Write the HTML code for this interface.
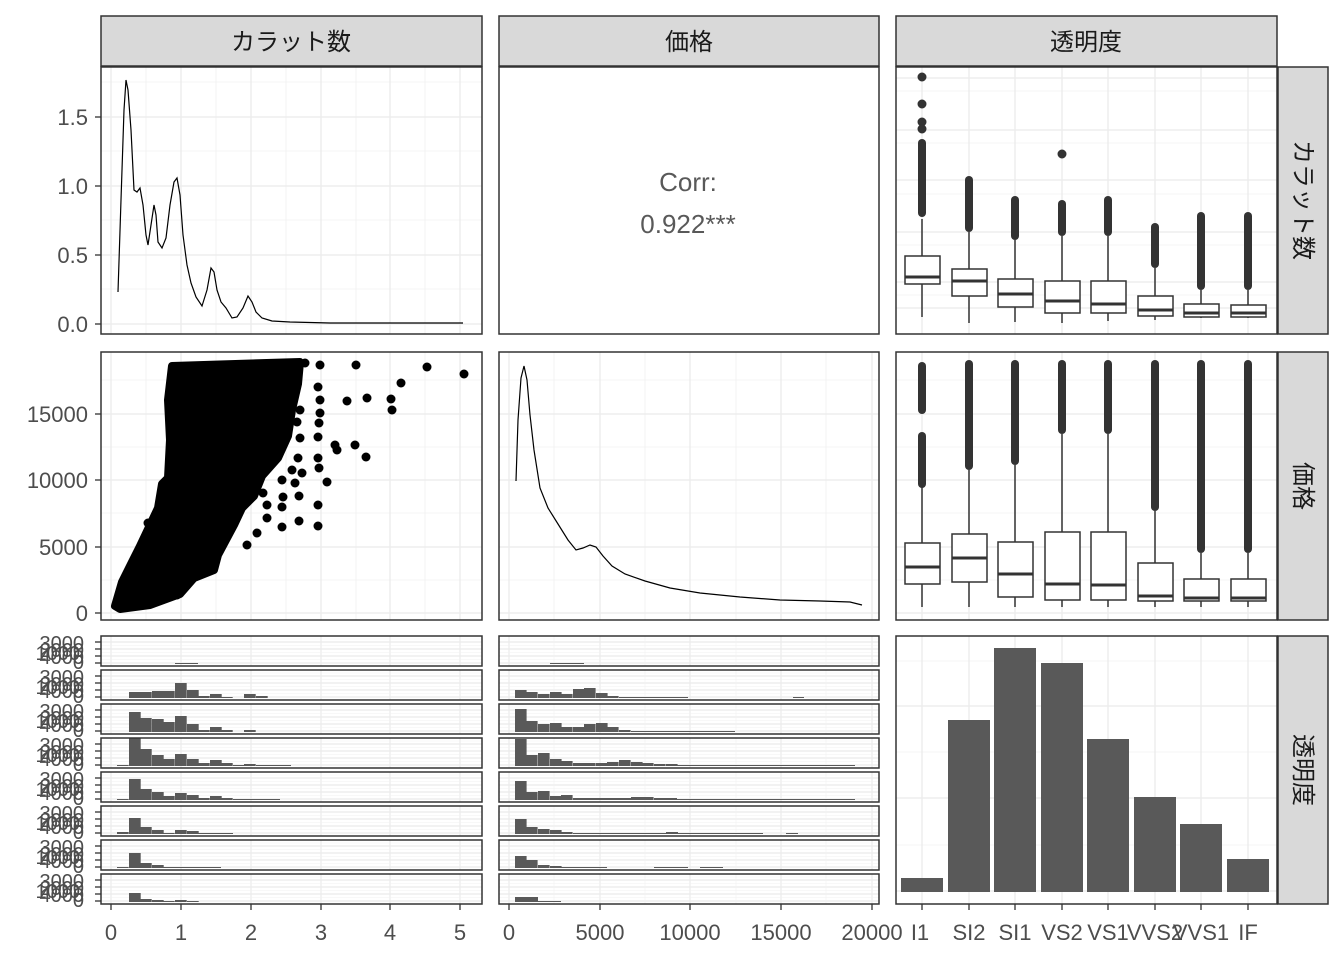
<!DOCTYPE html>
<html><head><meta charset="utf-8"><style>
html,body{margin:0;padding:0;background:#fff;}
svg{display:block;font-family:"Liberation Sans","Noto Sans CJK JP",sans-serif;}
</style></head><body>
<svg width="1344" height="960" viewBox="0 0 1344 960" xmlns="http://www.w3.org/2000/svg">
<rect width="1344" height="960" fill="#fff"/>
<g fill="#d9d9d9" stroke="#333" stroke-width="1.5">
<rect x="101" y="16" width="381" height="50"/>
<rect x="499" y="16" width="380" height="50"/>
<rect x="896" y="16" width="381" height="50"/>
<rect x="1278" y="67" width="50" height="267"/>
<rect x="1278" y="352" width="50" height="268"/>
<rect x="1278" y="636" width="50" height="268"/>
</g>
<g font-size="24" fill="#1a1a1a" text-anchor="middle">
<text x="291" y="50">カラット数</text>
<text x="689" y="50">価格</text>
<text x="1086" y="50">透明度</text>
<text transform="translate(1295,200) rotate(90)">カラット数</text>
<text transform="translate(1295,486) rotate(90)">価格</text>
<text transform="translate(1295,770) rotate(90)">透明度</text>
</g>

<g stroke="#ebebeb">
<g stroke-width="0.6"><line x1="101" x2="482" y1="289" y2="289"/><line x1="101" x2="482" y1="220" y2="220"/><line x1="101" x2="482" y1="151" y2="151"/><line x1="101" x2="482" y1="82" y2="82"/>
<line x1="146" x2="146" y1="67" y2="334"/><line x1="216" x2="216" y1="67" y2="334"/><line x1="286" x2="286" y1="67" y2="334"/><line x1="356" x2="356" y1="67" y2="334"/><line x1="425" x2="425" y1="67" y2="334"/></g>
<g stroke-width="1.3"><line x1="101" x2="482" y1="324" y2="324"/><line x1="101" x2="482" y1="255" y2="255"/><line x1="101" x2="482" y1="186" y2="186"/><line x1="101" x2="482" y1="117" y2="117"/>
<line x1="111" x2="111" y1="67" y2="334"/><line x1="181" x2="181" y1="67" y2="334"/><line x1="251" x2="251" y1="67" y2="334"/><line x1="321" x2="321" y1="67" y2="334"/><line x1="390" x2="390" y1="67" y2="334"/><line x1="460" x2="460" y1="67" y2="334"/></g>
</g>
<polyline fill="none" stroke="#000" stroke-width="1.2" points="118,292 121,200 124,110 126,80 128,90 131,130 134,190 137,192 140,188 143,205 146,235 148,245 151,225 154,205 156,215 158,242 162,248 166,238 170,205 174,182 177,178 180,195 183,235 187,265 191,283 196,297 202,306 207,290 211,268 214,272 217,290 221,302 226,308 232,318 237,317 243,308 248,296 252,302 256,312 262,318 272,321 290,322 330,323 400,323 463,323"/>
<rect x="101" y="67" width="381" height="267" fill="none" stroke="#333" stroke-width="1.5"/>

<rect x="499" y="67" width="380" height="267" fill="none" stroke="#333" stroke-width="1.5"/>
<g font-size="26" fill="#595959" text-anchor="middle">
<text x="688" y="191">Corr:</text>
<text x="688" y="233">0.922***</text>
</g>

<g stroke="#ebebeb">
<g stroke-width="0.6"><line x1="896" x2="1277" y1="91" y2="91"/><line x1="896" x2="1277" y1="143" y2="143"/><line x1="896" x2="1277" y1="194" y2="194"/><line x1="896" x2="1277" y1="245" y2="245"/><line x1="896" x2="1277" y1="295" y2="295"/></g>
<g stroke-width="1.3"><line x1="896" x2="1277" y1="78" y2="78"/><line x1="896" x2="1277" y1="130" y2="130"/><line x1="896" x2="1277" y1="180" y2="180"/><line x1="896" x2="1277" y1="232" y2="232"/><line x1="896" x2="1277" y1="282" y2="282"/><line x1="896" x2="1277" y1="308" y2="308"/>
<line x1="922" x2="922" y1="67" y2="334"/><line x1="969" x2="969" y1="67" y2="334"/><line x1="1015" x2="1015" y1="67" y2="334"/><line x1="1062" x2="1062" y1="67" y2="334"/><line x1="1108" x2="1108" y1="67" y2="334"/><line x1="1155" x2="1155" y1="67" y2="334"/><line x1="1201" x2="1201" y1="67" y2="334"/><line x1="1248" x2="1248" y1="67" y2="334"/></g>
</g>
<g stroke="#333" fill="#333">
<g stroke-width="1.5">
<line x1="922" x2="922" y1="219" y2="317"/><line x1="969" x2="969" y1="232" y2="323"/><line x1="1015" x2="1015" y1="240" y2="322"/><line x1="1062" x2="1062" y1="236" y2="323"/><line x1="1108" x2="1108" y1="236" y2="321"/><line x1="1155" x2="1155" y1="268" y2="320"/><line x1="1201" x2="1201" y1="290" y2="318"/><line x1="1248" x2="1248" y1="290" y2="318"/>
</g>
<g stroke-width="8" stroke-linecap="round">
<line x1="922" x2="922" y1="143" y2="213"/><line x1="969" x2="969" y1="180" y2="228"/><line x1="1015" x2="1015" y1="200" y2="236"/><line x1="1062" x2="1062" y1="204" y2="232"/><line x1="1108" x2="1108" y1="200" y2="232"/><line x1="1155" x2="1155" y1="227" y2="264"/><line x1="1201" x2="1201" y1="216" y2="286"/><line x1="1248" x2="1248" y1="216" y2="286"/>
</g>
<circle cx="922" cy="77" r="4"/><circle cx="922" cy="104" r="4"/><circle cx="922" cy="122" r="4"/><circle cx="922" cy="129" r="4"/><circle cx="1062" cy="154" r="4"/>
</g>
<g stroke="#333" stroke-width="1.5" fill="#fff">
<rect x="905" y="256" width="35" height="28"/><rect x="952" y="269" width="35" height="27"/><rect x="998" y="279" width="35" height="28"/><rect x="1045" y="281" width="35" height="32"/><rect x="1091" y="281" width="35" height="32"/><rect x="1138" y="296" width="35" height="20"/><rect x="1184" y="304" width="35" height="13"/><rect x="1231" y="305" width="35" height="12"/>
</g>
<g stroke="#333" stroke-width="3">
<line x1="905" x2="940" y1="277" y2="277"/><line x1="952" x2="987" y1="281" y2="281"/><line x1="998" x2="1033" y1="294" y2="294"/><line x1="1045" x2="1080" y1="301" y2="301"/><line x1="1091" x2="1126" y1="304" y2="304"/><line x1="1138" x2="1173" y1="310" y2="310"/><line x1="1184" x2="1219" y1="313" y2="313"/><line x1="1231" x2="1266" y1="313" y2="313"/>
</g>
<rect x="896" y="67" width="381" height="267" fill="none" stroke="#333" stroke-width="1.5"/>

<g stroke="#ebebeb">
<g stroke-width="0.6"><line x1="101" x2="482" y1="580" y2="580"/><line x1="101" x2="482" y1="513" y2="513"/><line x1="101" x2="482" y1="447" y2="447"/><line x1="101" x2="482" y1="380" y2="380"/>
<line x1="146" x2="146" y1="352" y2="620"/><line x1="216" x2="216" y1="352" y2="620"/><line x1="286" x2="286" y1="352" y2="620"/><line x1="356" x2="356" y1="352" y2="620"/><line x1="425" x2="425" y1="352" y2="620"/></g>
<g stroke-width="1.3"><line x1="101" x2="482" y1="613" y2="613"/><line x1="101" x2="482" y1="547" y2="547"/><line x1="101" x2="482" y1="480" y2="480"/><line x1="101" x2="482" y1="414" y2="414"/>
<line x1="111" x2="111" y1="352" y2="620"/><line x1="181" x2="181" y1="352" y2="620"/><line x1="251" x2="251" y1="352" y2="620"/><line x1="321" x2="321" y1="352" y2="620"/><line x1="390" x2="390" y1="352" y2="620"/><line x1="460" x2="460" y1="352" y2="620"/></g>
</g>
<polygon fill="#000" stroke="#000" stroke-width="8" stroke-linejoin="round" points="115,606 122,582 140,546 158,508 162,484 168,478 170,440 168,400 172,366 300,362 298,384 292,410 288,436 278,458 262,476 254,496 242,508 234,525 218,555 214,570 194,578 180,594 150,605 120,609"/>
<g fill="#000">
<circle cx="305" cy="363" r="4.5"/><circle cx="320" cy="365" r="4.5"/><circle cx="356" cy="365" r="4.5"/><circle cx="427" cy="367" r="4.5"/><circle cx="464" cy="374" r="4.5"/><circle cx="401" cy="383" r="4.5"/><circle cx="347" cy="401" r="4.5"/><circle cx="367" cy="398" r="4.5"/><circle cx="391" cy="399" r="4.5"/><circle cx="392" cy="410" r="4.5"/><circle cx="318" cy="387" r="4.5"/><circle cx="320" cy="400" r="4.5"/><circle cx="320" cy="413" r="4.5"/><circle cx="319" cy="423" r="4.5"/><circle cx="300" cy="410" r="4.5"/><circle cx="297" cy="422" r="4.5"/><circle cx="300" cy="438" r="4.5"/><circle cx="318" cy="437" r="4.5"/><circle cx="335" cy="445" r="4.5"/><circle cx="337" cy="450" r="4.5"/><circle cx="355" cy="445" r="4.5"/><circle cx="366" cy="457" r="4.5"/><circle cx="298" cy="458" r="4.5"/><circle cx="318" cy="458" r="4.5"/><circle cx="319" cy="468" r="4.5"/><circle cx="327" cy="482" r="4.5"/><circle cx="302" cy="473" r="4.5"/><circle cx="292" cy="470" r="4.5"/><circle cx="295" cy="483" r="4.5"/><circle cx="282" cy="480" r="4.5"/><circle cx="299" cy="496" r="4.5"/><circle cx="283" cy="497" r="4.5"/><circle cx="282" cy="507" r="4.5"/><circle cx="263" cy="493" r="4.5"/><circle cx="267" cy="505" r="4.5"/><circle cx="318" cy="505" r="4.5"/><circle cx="299" cy="521" r="4.5"/><circle cx="282" cy="527" r="4.5"/><circle cx="318" cy="526" r="4.5"/><circle cx="267" cy="518" r="4.5"/><circle cx="257" cy="533" r="4.5"/><circle cx="247" cy="545" r="4.5"/><circle cx="148" cy="523" r="4.5"/><circle cx="210" cy="570" r="4.5"/><circle cx="177" cy="595" r="4.5"/>
</g>
<rect x="101" y="352" width="381" height="268" fill="none" stroke="#333" stroke-width="1.5"/>

<g stroke="#ebebeb">
<g stroke-width="0.6"><line x1="499" x2="879" y1="580" y2="580"/><line x1="499" x2="879" y1="513" y2="513"/><line x1="499" x2="879" y1="447" y2="447"/><line x1="499" x2="879" y1="380" y2="380"/>
<line x1="554" x2="554" y1="352" y2="620"/><line x1="645" x2="645" y1="352" y2="620"/><line x1="736" x2="736" y1="352" y2="620"/><line x1="826" x2="826" y1="352" y2="620"/></g>
<g stroke-width="1.3"><line x1="499" x2="879" y1="613" y2="613"/><line x1="499" x2="879" y1="547" y2="547"/><line x1="499" x2="879" y1="480" y2="480"/><line x1="499" x2="879" y1="414" y2="414"/>
<line x1="509" x2="509" y1="352" y2="620"/><line x1="600" x2="600" y1="352" y2="620"/><line x1="690" x2="690" y1="352" y2="620"/><line x1="781" x2="781" y1="352" y2="620"/><line x1="872" x2="872" y1="352" y2="620"/></g>
</g>
<polyline fill="none" stroke="#000" stroke-width="1.2" points="516,481 518,420 521,378 524,366 527,380 530,415 534,450 540,488 548,508 558,524 568,540 576,550 583,548 590,545 596,547 603,556 612,566 625,574 645,581 670,588 700,593 740,597 780,600 820,601 850,602 862,605"/>
<rect x="499" y="352" width="380" height="268" fill="none" stroke="#333" stroke-width="1.5"/>

<g stroke="#ebebeb">
<g stroke-width="0.6"><line x1="896" x2="1277" y1="580" y2="580"/><line x1="896" x2="1277" y1="513" y2="513"/><line x1="896" x2="1277" y1="447" y2="447"/><line x1="896" x2="1277" y1="380" y2="380"/></g>
<g stroke-width="1.3"><line x1="896" x2="1277" y1="613" y2="613"/><line x1="896" x2="1277" y1="547" y2="547"/><line x1="896" x2="1277" y1="480" y2="480"/><line x1="896" x2="1277" y1="414" y2="414"/>
<line x1="922" x2="922" y1="352" y2="620"/><line x1="969" x2="969" y1="352" y2="620"/><line x1="1015" x2="1015" y1="352" y2="620"/><line x1="1062" x2="1062" y1="352" y2="620"/><line x1="1108" x2="1108" y1="352" y2="620"/><line x1="1155" x2="1155" y1="352" y2="620"/><line x1="1201" x2="1201" y1="352" y2="620"/><line x1="1248" x2="1248" y1="352" y2="620"/></g>
</g>
<g stroke="#333">
<g stroke-width="1.5">
<line x1="922" x2="922" y1="487" y2="607"/><line x1="969" x2="969" y1="470" y2="607"/><line x1="1015" x2="1015" y1="465" y2="607"/><line x1="1062" x2="1062" y1="434" y2="607"/><line x1="1108" x2="1108" y1="434" y2="607"/><line x1="1155" x2="1155" y1="511" y2="607"/><line x1="1201" x2="1201" y1="553" y2="607"/><line x1="1248" x2="1248" y1="553" y2="607"/>
</g>
<g stroke-width="8" stroke-linecap="round">
<line x1="922" x2="922" y1="366" y2="410"/><line x1="922" x2="922" y1="436" y2="484"/><line x1="969" x2="969" y1="364" y2="466"/><line x1="1015" x2="1015" y1="364" y2="461"/><line x1="1062" x2="1062" y1="364" y2="430"/><line x1="1108" x2="1108" y1="364" y2="430"/><line x1="1155" x2="1155" y1="364" y2="507"/><line x1="1201" x2="1201" y1="364" y2="549"/><line x1="1248" x2="1248" y1="364" y2="549"/>
</g>
</g>
<g stroke="#333" stroke-width="1.5" fill="#fff">
<rect x="905" y="543" width="35" height="41"/><rect x="952" y="534" width="35" height="48"/><rect x="998" y="542" width="35" height="55"/><rect x="1045" y="532" width="35" height="68"/><rect x="1091" y="532" width="35" height="68"/><rect x="1138" y="563" width="35" height="38"/><rect x="1184" y="579" width="35" height="22"/><rect x="1231" y="579" width="35" height="22"/>
</g>
<g stroke="#333" stroke-width="3">
<line x1="905" x2="940" y1="567" y2="567"/><line x1="952" x2="987" y1="558" y2="558"/><line x1="998" x2="1033" y1="574" y2="574"/><line x1="1045" x2="1080" y1="584" y2="584"/><line x1="1091" x2="1126" y1="585" y2="585"/><line x1="1138" x2="1173" y1="596" y2="596"/><line x1="1184" x2="1219" y1="598" y2="598"/><line x1="1231" x2="1266" y1="598" y2="598"/>
</g>
<rect x="896" y="352" width="381" height="268" fill="none" stroke="#333" stroke-width="1.5"/>

<defs>
<g id="gridL">
<g stroke="#ebebeb" stroke-width="1.2"><line x1="101" x2="482" y1="6" y2="6"/><line x1="101" x2="482" y1="13" y2="13"/><line x1="101" x2="482" y1="20" y2="20"/><line x1="101" x2="482" y1="27" y2="27"/>
<line x1="111" x2="111" y1="0" y2="30"/><line x1="181" x2="181" y1="0" y2="30"/><line x1="251" x2="251" y1="0" y2="30"/><line x1="321" x2="321" y1="0" y2="30"/><line x1="390" x2="390" y1="0" y2="30"/><line x1="460" x2="460" y1="0" y2="30"/></g>
<g stroke="#f2f2f2" stroke-width="0.6"><line x1="101" x2="482" y1="9.5" y2="9.5"/><line x1="101" x2="482" y1="16.5" y2="16.5"/><line x1="101" x2="482" y1="23.5" y2="23.5"/><line x1="101" x2="482" y1="3" y2="3"/></g>
<g stroke="#333" stroke-width="1.3"><line x1="95" x2="101" y1="6" y2="6"/><line x1="95" x2="101" y1="13" y2="13"/><line x1="95" x2="101" y1="20" y2="20"/><line x1="95" x2="101" y1="27" y2="27"/></g>
<g font-size="20" fill="#4d4d4d" text-anchor="end"><text x="84" y="14">3000</text><text x="84" y="21">2000</text><text x="84" y="28">4000</text><text x="84" y="33">0</text><text x="80" y="24">1000</text></g>
</g>
<g id="gridM">
<g stroke="#ebebeb" stroke-width="1.2"><line x1="499" x2="879" y1="6" y2="6"/><line x1="499" x2="879" y1="13" y2="13"/><line x1="499" x2="879" y1="20" y2="20"/><line x1="499" x2="879" y1="27" y2="27"/>
<line x1="509" x2="509" y1="0" y2="30"/><line x1="600" x2="600" y1="0" y2="30"/><line x1="690" x2="690" y1="0" y2="30"/><line x1="781" x2="781" y1="0" y2="30"/><line x1="872" x2="872" y1="0" y2="30"/></g>
<g stroke="#f2f2f2" stroke-width="0.6"><line x1="499" x2="879" y1="9.5" y2="9.5"/><line x1="499" x2="879" y1="16.5" y2="16.5"/><line x1="499" x2="879" y1="23.5" y2="23.5"/><line x1="499" x2="879" y1="3" y2="3"/><line x1="554" x2="554" y1="0" y2="30"/><line x1="645" x2="645" y1="0" y2="30"/><line x1="736" x2="736" y1="0" y2="30"/><line x1="826" x2="826" y1="0" y2="30"/></g>
</g>
</defs>
<use href="#gridL" transform="translate(0,636)"/><use href="#gridL" transform="translate(0,670)"/><use href="#gridL" transform="translate(0,704)"/><use href="#gridL" transform="translate(0,738)"/><use href="#gridL" transform="translate(0,772)"/><use href="#gridL" transform="translate(0,806)"/><use href="#gridL" transform="translate(0,840)"/><use href="#gridL" transform="translate(0,874)"/>
<use href="#gridM" transform="translate(0,636)"/><use href="#gridM" transform="translate(0,670)"/><use href="#gridM" transform="translate(0,704)"/><use href="#gridM" transform="translate(0,738)"/><use href="#gridM" transform="translate(0,772)"/><use href="#gridM" transform="translate(0,806)"/><use href="#gridM" transform="translate(0,840)"/><use href="#gridM" transform="translate(0,874)"/>

<g fill="#595959">
<rect x="175" y="663" width="23" height="1"/>
<rect x="129" y="692" width="11.7" height="6"/><rect x="140" y="692" width="11.7" height="6"/><rect x="152" y="691" width="11.7" height="7"/><rect x="163" y="691" width="11.7" height="7"/><rect x="175" y="683" width="11.7" height="15"/><rect x="187" y="690" width="11.7" height="8"/><rect x="198" y="696" width="11.7" height="2"/><rect x="210" y="694" width="11.7" height="4"/><rect x="221" y="697" width="11.7" height="1"/><rect x="244" y="694" width="11.7" height="4"/><rect x="256" y="696" width="11.7" height="2"/>
<rect x="129" y="712" width="11.7" height="20"/><rect x="140" y="718" width="11.7" height="14"/><rect x="152" y="719" width="11.7" height="13"/><rect x="163" y="722" width="11.7" height="10"/><rect x="175" y="716" width="11.7" height="16"/><rect x="187" y="724" width="11.7" height="8"/><rect x="198" y="730" width="11.7" height="2"/><rect x="210" y="727" width="11.7" height="5"/><rect x="221" y="730" width="11.7" height="2"/><rect x="244" y="730" width="11.7" height="2"/>
<rect x="117" y="765" width="11.7" height="1"/><rect x="129" y="738" width="11.7" height="28"/><rect x="140" y="749" width="11.7" height="17"/><rect x="152" y="755" width="11.7" height="11"/><rect x="163" y="759" width="11.7" height="7"/><rect x="175" y="754" width="11.7" height="12"/><rect x="187" y="759" width="11.7" height="7"/><rect x="198" y="763" width="11.7" height="3"/><rect x="210" y="760" width="11.7" height="6"/><rect x="221" y="763" width="11.7" height="3"/><rect x="233" y="765" width="11.7" height="1"/><rect x="244" y="764" width="11.7" height="2"/><rect x="256" y="765" width="35" height="1"/>
<rect x="117" y="799" width="11.7" height="1"/><rect x="129" y="779" width="11.7" height="21"/><rect x="140" y="789" width="11.7" height="11"/><rect x="152" y="792" width="11.7" height="8"/><rect x="163" y="796" width="11.7" height="4"/><rect x="175" y="793" width="11.7" height="7"/><rect x="187" y="795" width="11.7" height="5"/><rect x="198" y="798" width="11.7" height="2"/><rect x="210" y="796" width="11.7" height="4"/><rect x="221" y="798" width="11.7" height="2"/><rect x="233" y="799" width="47" height="1"/>
<rect x="117" y="832" width="11.7" height="2"/><rect x="129" y="818" width="11.7" height="16"/><rect x="140" y="827" width="11.7" height="7"/><rect x="152" y="830" width="11.7" height="4"/><rect x="163" y="833" width="11.7" height="1"/><rect x="175" y="830" width="11.7" height="4"/><rect x="187" y="831" width="11.7" height="3"/><rect x="198" y="833" width="35" height="1"/>
<rect x="117" y="867" width="11.7" height="1"/><rect x="129" y="853" width="11.7" height="15"/><rect x="140" y="863" width="11.7" height="5"/><rect x="152" y="865" width="11.7" height="3"/><rect x="163" y="867" width="58" height="1"/>
<rect x="129" y="893" width="11.7" height="9"/><rect x="140" y="899" width="11.7" height="3"/><rect x="152" y="900" width="11.7" height="2"/><rect x="163" y="901" width="11.7" height="1"/><rect x="175" y="900" width="11.7" height="2"/><rect x="187" y="901" width="11.7" height="1"/>
<rect x="550" y="663" width="34" height="1"/>
<rect x="515" y="690" width="11.6" height="8"/><rect x="526" y="692" width="11.6" height="6"/><rect x="538" y="694" width="11.6" height="4"/><rect x="550" y="692" width="11.6" height="6"/><rect x="561" y="694" width="11.6" height="4"/><rect x="573" y="689" width="11.6" height="9"/><rect x="584" y="688" width="11.6" height="10"/><rect x="596" y="693" width="11.6" height="5"/><rect x="607" y="696" width="11.6" height="2"/><rect x="619" y="697" width="69" height="1"/><rect x="793" y="697" width="11" height="1"/>
<rect x="515" y="709" width="11.6" height="23"/><rect x="526" y="721" width="11.6" height="11"/><rect x="538" y="724" width="11.6" height="8"/><rect x="550" y="723" width="11.6" height="9"/><rect x="561" y="727" width="11.6" height="5"/><rect x="573" y="727" width="11.6" height="5"/><rect x="584" y="724" width="11.6" height="8"/><rect x="596" y="723" width="11.6" height="9"/><rect x="607" y="727" width="11.6" height="5"/><rect x="619" y="730" width="11.6" height="2"/><rect x="631" y="731" width="104" height="1"/>
<rect x="515" y="739" width="11.6" height="27"/><rect x="526" y="755" width="11.6" height="11"/><rect x="538" y="753" width="11.6" height="13"/><rect x="550" y="759" width="11.6" height="7"/><rect x="561" y="761" width="11.6" height="5"/><rect x="573" y="763" width="11.6" height="3"/><rect x="584" y="763" width="11.6" height="3"/><rect x="596" y="763" width="11.6" height="3"/><rect x="607" y="762" width="11.6" height="4"/><rect x="619" y="760" width="11.6" height="6"/><rect x="631" y="762" width="11.6" height="4"/><rect x="642" y="763" width="11.6" height="3"/><rect x="654" y="764" width="11.6" height="2"/><rect x="666" y="764" width="11.6" height="2"/><rect x="677" y="765" width="178" height="1"/>
<rect x="515" y="781" width="11.6" height="19"/><rect x="526" y="792" width="11.6" height="8"/><rect x="538" y="791" width="11.6" height="9"/><rect x="550" y="796" width="11.6" height="4"/><rect x="561" y="795" width="11.6" height="5"/><rect x="573" y="798" width="58" height="2"/><rect x="631" y="797" width="11.6" height="3"/><rect x="642" y="797" width="11.6" height="3"/><rect x="654" y="798" width="23" height="2"/><rect x="677" y="799" width="178" height="1"/>
<rect x="515" y="819" width="11.6" height="15"/><rect x="526" y="827" width="11.6" height="7"/><rect x="538" y="829" width="11.6" height="5"/><rect x="550" y="830" width="11.6" height="4"/><rect x="561" y="832" width="11.6" height="2"/><rect x="573" y="833" width="190" height="1"/><rect x="666" y="832" width="12" height="2"/><rect x="786" y="833" width="12" height="1"/>
<rect x="515" y="856" width="11.6" height="12"/><rect x="526" y="860" width="11.6" height="8"/><rect x="538" y="865" width="11.6" height="3"/><rect x="550" y="866" width="11.6" height="2"/><rect x="561" y="867" width="46" height="1"/><rect x="654" y="867" width="34" height="1"/><rect x="700" y="867" width="23" height="1"/>
<rect x="515" y="897" width="23" height="5"/><rect x="538" y="901" width="23" height="1"/>
</g>
<g fill="none" stroke="#333" stroke-width="1.5">
<rect x="101" y="636" width="381" height="30"/><rect x="101" y="670" width="381" height="30"/><rect x="101" y="704" width="381" height="30"/><rect x="101" y="738" width="381" height="30"/><rect x="101" y="772" width="381" height="30"/><rect x="101" y="806" width="381" height="30"/><rect x="101" y="840" width="381" height="30"/><rect x="101" y="874" width="381" height="30"/>
<rect x="499" y="636" width="380" height="30"/><rect x="499" y="670" width="380" height="30"/><rect x="499" y="704" width="380" height="30"/><rect x="499" y="738" width="380" height="30"/><rect x="499" y="772" width="380" height="30"/><rect x="499" y="806" width="380" height="30"/><rect x="499" y="840" width="380" height="30"/><rect x="499" y="874" width="380" height="30"/>
</g>

<g stroke="#ebebeb">
<g stroke-width="0.6"><line x1="896" x2="1277" y1="661" y2="661"/><line x1="896" x2="1277" y1="752" y2="752"/><line x1="896" x2="1277" y1="845" y2="845"/></g>
<g stroke-width="1.3"><line x1="896" x2="1277" y1="706" y2="706"/><line x1="896" x2="1277" y1="798" y2="798"/><line x1="896" x2="1277" y1="891" y2="891"/>
<line x1="922" x2="922" y1="636" y2="904"/><line x1="969" x2="969" y1="636" y2="904"/><line x1="1015" x2="1015" y1="636" y2="904"/><line x1="1062" x2="1062" y1="636" y2="904"/><line x1="1108" x2="1108" y1="636" y2="904"/><line x1="1155" x2="1155" y1="636" y2="904"/><line x1="1201" x2="1201" y1="636" y2="904"/><line x1="1248" x2="1248" y1="636" y2="904"/></g>
</g>
<g fill="#595959">
<rect x="901" y="878" width="42" height="14"/><rect x="948" y="720" width="42" height="172"/><rect x="994" y="648" width="42" height="244"/><rect x="1041" y="663" width="42" height="229"/><rect x="1087" y="739" width="42" height="153"/><rect x="1134" y="797" width="42" height="95"/><rect x="1180" y="824" width="42" height="68"/><rect x="1227" y="859" width="42" height="33"/>
</g>
<rect x="896" y="636" width="381" height="268" fill="none" stroke="#333" stroke-width="1.5"/>

<g stroke="#333" stroke-width="1.3">
<line x1="95" x2="101" y1="324" y2="324"/><line x1="95" x2="101" y1="255" y2="255"/><line x1="95" x2="101" y1="186" y2="186"/><line x1="95" x2="101" y1="117" y2="117"/>
<line x1="95" x2="101" y1="613" y2="613"/><line x1="95" x2="101" y1="547" y2="547"/><line x1="95" x2="101" y1="480" y2="480"/><line x1="95" x2="101" y1="414" y2="414"/>
<line x1="111" x2="111" y1="904" y2="910"/><line x1="181" x2="181" y1="904" y2="910"/><line x1="251" x2="251" y1="904" y2="910"/><line x1="321" x2="321" y1="904" y2="910"/><line x1="390" x2="390" y1="904" y2="910"/><line x1="460" x2="460" y1="904" y2="910"/>
<line x1="509" x2="509" y1="904" y2="910"/><line x1="600" x2="600" y1="904" y2="910"/><line x1="690" x2="690" y1="904" y2="910"/><line x1="781" x2="781" y1="904" y2="910"/><line x1="872" x2="872" y1="904" y2="910"/>
<line x1="922" x2="922" y1="904" y2="910"/><line x1="969" x2="969" y1="904" y2="910"/><line x1="1015" x2="1015" y1="904" y2="910"/><line x1="1062" x2="1062" y1="904" y2="910"/><line x1="1108" x2="1108" y1="904" y2="910"/><line x1="1155" x2="1155" y1="904" y2="910"/><line x1="1201" x2="1201" y1="904" y2="910"/><line x1="1248" x2="1248" y1="904" y2="910"/>
</g>
<g font-size="22" fill="#4d4d4d" text-anchor="end">
<text x="88" y="332">0.0</text><text x="88" y="263">0.5</text><text x="88" y="194">1.0</text><text x="88" y="125">1.5</text>
<text x="88" y="621">0</text><text x="88" y="555">5000</text><text x="88" y="488">10000</text><text x="88" y="422">15000</text>
</g>
<g font-size="22" fill="#4d4d4d" text-anchor="middle">
<text x="111" y="940">0</text><text x="181" y="940">1</text><text x="251" y="940">2</text><text x="321" y="940">3</text><text x="390" y="940">4</text><text x="460" y="940">5</text>
<text x="509" y="940">0</text><text x="600" y="940">5000</text><text x="690" y="940">10000</text><text x="781" y="940">15000</text><text x="872" y="940">20000</text>
<text x="920" y="940">I1</text><text x="969" y="940">SI2</text><text x="1015" y="940">SI1</text><text x="1062" y="940">VS2</text><text x="1108" y="940">VS1</text><text x="1155" y="940">VVS2</text><text x="1201" y="940">VVS1</text><text x="1248" y="940">IF</text>
</g>
</svg>
</body></html>
